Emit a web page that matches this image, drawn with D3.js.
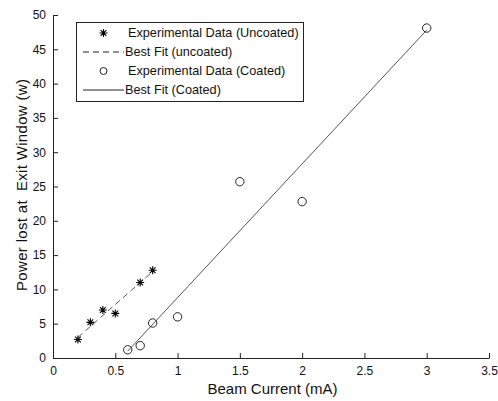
<!DOCTYPE html>
<html>
<head>
<meta charset="utf-8">
<script src="https://cdn.jsdelivr.net/npm/d3@7"></script>
<style>
  body { margin: 0; background: #fff; }
  svg { display: block; font-family: "Liberation Sans", Arial, sans-serif; }
  .tick text { font-size: 12px; fill: #111; }
</style>
</head>
<body>
<svg id="chart" width="498" height="401"></svg>
<script>
// uncoated window: measured points
const uncoatedX = [0.2, 0.3, 0.4, 0.5, 0.7, 0.8];
const uncoatedY = [2.7, 5.2, 7.0, 6.5, 11.0, 12.8];
// uncoated best fit (end points)
const uncoatedFitX = [0.2, 0.8];
const uncoatedFitY = [3.0, 12.6];

// coated window: measured points
const coatedX = [0.6, 0.7, 0.8, 1.0, 1.5, 2.0, 3.0];
const coatedY = [1.2, 1.8, 5.1, 6.0, 25.7, 22.8, 48.1];
// coated best fit
const coatedFitX = [0.6, 3.0];
const coatedFitY = [1.0, 47.8];

const xTicks = [0, 0.5, 1, 1.5, 2, 2.5, 3, 3.5];
const yTicks = [0, 5, 10, 15, 20, 25, 30, 35, 40, 45, 50];

const legendLabels = [
  "Experimental Data (Uncoated)",
  "Best Fit (uncoated)",
  "Experimental Data (Coated)",
  "Best Fit (Coated)"
];

const svg = d3.select("#chart");
const m = { left: 53, right: 489, top: 15, bottom: 358 };

const x = d3.scaleLinear().domain([0, 3.5]).range([m.left, m.right]);
const y = d3.scaleLinear().domain([0, 50]).range([m.bottom, m.top]);

const zip = (xs, ys) => xs.map((v, i) => [v, ys[i]]);
const line = d3.line().x(d => x(d[0])).y(d => y(d[1]));

// axes, ticks pointing inward like matlab
svg.append("g")
  .attr("transform", `translate(0,${m.bottom})`)
  .call(d3.axisBottom(x).tickValues(xTicks).tickFormat(d3.format("")).tickSizeInner(-5).tickSizeOuter(0).tickPadding(8));
svg.append("g")
  .attr("transform", `translate(${m.left},0)`)
  .call(d3.axisLeft(y).tickValues(yTicks).tickSizeInner(-5).tickSizeOuter(0).tickPadding(7));
svg.selectAll(".domain, .tick line").attr("stroke", "#222");

// fit lines
svg.append("path")
  .attr("d", line(zip(uncoatedFitX, uncoatedFitY)))
  .attr("fill", "none").attr("stroke", "#555").attr("stroke-width", 1)
  .attr("stroke-dasharray", "6,4");
svg.append("path")
  .attr("d", line(zip(coatedFitX, coatedFitY)))
  .attr("fill", "none").attr("stroke", "#555").attr("stroke-width", 1);

// star marker = plus + cross
function star(g, cx, cy, r) {
  const d = r * 0.72;
  g.append("path")
    .attr("d", `M${cx - r},${cy}H${cx + r}M${cx},${cy - r}V${cy + r}` +
      `M${cx - d},${cy - d}L${cx + d},${cy + d}M${cx - d},${cy + d}L${cx + d},${cy - d}`)
    .attr("stroke", "#000").attr("stroke-width", 1.1).attr("fill", "none");
}

const stars = svg.append("g");
zip(uncoatedX, uncoatedY).forEach(d => star(stars, x(d[0]), y(d[1]), 4));

svg.append("g").selectAll("circle")
  .data(zip(coatedX, coatedY))
  .join("circle")
  .attr("cx", d => x(d[0])).attr("cy", d => y(d[1])).attr("r", 4.2)
  .attr("fill", "none").attr("stroke", "#222").attr("stroke-width", 1);

// legend
const lg = svg.append("g");
lg.append("rect").attr("x", 76.5).attr("y", 22.5).attr("width", 227).attr("height", 79)
  .attr("fill", "#fff").attr("stroke", "#222");
const rowY = [33, 52, 71, 90];
legendLabels.forEach((t, i) => {
  const yy = rowY[i];
  if (i === 0) star(lg, 103.5, yy, 4);
  if (i === 1) lg.append("line").attr("x1", 83).attr("x2", 124).attr("y1", yy).attr("y2", yy)
    .attr("stroke", "#222").attr("stroke-dasharray", "6,4");
  if (i === 2) lg.append("circle").attr("cx", 103.5).attr("cy", yy).attr("r", 3.5)
    .attr("fill", "none").attr("stroke", "#222");
  if (i === 3) lg.append("line").attr("x1", 83).attr("x2", 124).attr("y1", yy).attr("y2", yy)
    .attr("stroke", "#222");
  lg.append("text").attr("x", i % 2 ? 125 : 128).attr("y", yy).attr("dy", "0.35em")
    .attr("font-size", 12.7).attr("fill", "#111").text(t);
});

// axis titles
svg.append("text").attr("x", 272.5).attr("y", 394)
  .attr("text-anchor", "middle").attr("font-size", 15).attr("fill", "#111")
  .text("Beam Current (mA)");
svg.append("text")
  .attr("transform", `translate(27,185) rotate(-90)`)
  .attr("text-anchor", "middle").attr("font-size", 15).attr("fill", "#111")
  .attr("textLength", 212).attr("lengthAdjust", "spacing")
  .style("white-space", "pre")
  .text("Power lost at  Exit Window (w)");
</script>
</body>
</html>
